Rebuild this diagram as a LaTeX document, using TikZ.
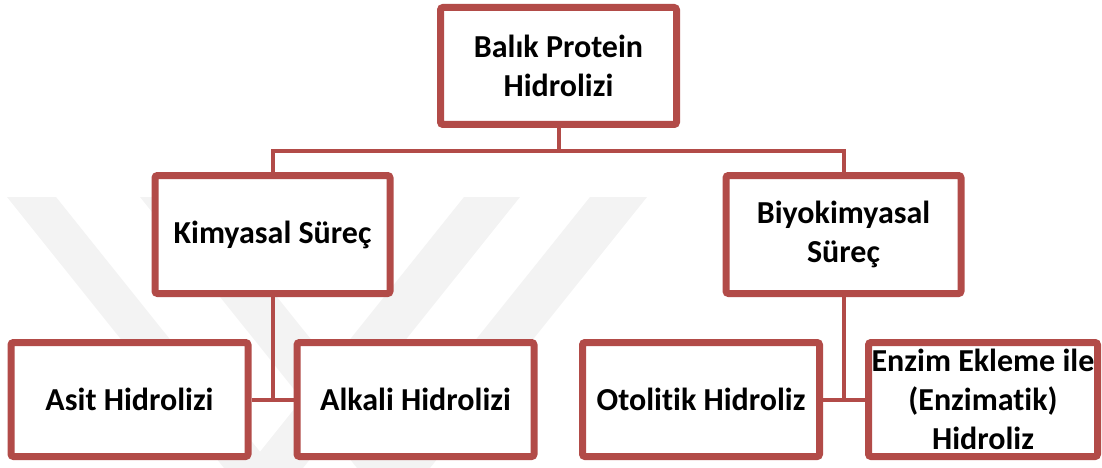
\documentclass[tikz,border=0pt]{standalone}
\usepackage{fontspec}
\setmainfont{Carlito}[Ligatures=NoCommon]
\usetikzlibrary{positioning, calc, shadows}
\definecolor{boxred}{HTML}{B24B48}
\definecolor{wmark}{HTML}{F3F3F3}

\begin{document}
\begin{tikzpicture}[x=1pt, y=-1pt,
  box/.style={draw=boxred, line width=7pt, fill=white, rounded corners=2.5pt,
    align=center, inner sep=0pt, font=\fontsize{32}{39}\selectfont\bfseries,
    drop shadow={shadow xshift=2pt, shadow yshift=-3pt, opacity=0.3, fill=black!60}},
  upbox/.style={box, minimum width=235pt, minimum height=118pt},
  lowbox/.style={box, minimum width=237pt, minimum height=114pt},
  link/.style={draw=boxred, line width=4pt}]

% Frame
\useasboundingbox (0,0) rectangle (1102,468);

% Watermark
\fill[wmark] (7,197) -- (56,197) -- (273,468) -- (224,468) -- cycle;
\fill[wmark] (140,197) -- (197,197) -- (414,468) -- (357,468) -- cycle;
\fill[wmark] (464,197) -- (520,197) -- (303,468) -- (247,468) -- cycle;
\fill[wmark] (590,197) -- (647,197) -- (430,468) -- (373,468) -- cycle;

% Boxes
\node[box, minimum width=236pt, minimum height=117pt] (balik) at (558.5,66) {Balık Protein\\Hidrolizi};
\node[upbox] (kimya) at (272.5,234.5) {Kimyasal Süreç};
\node[upbox] (biyo) at (843.5,234.5) {Biyokimyasal\\Süreç};
\node[lowbox] (asit) at (129.5,399.5) {Asit Hidrolizi};
\node[lowbox] (alkali) at (415.5,399.5) {Alkali Hidrolizi};
\node[lowbox] (otolitik) at (701,399.5) {Otolitik Hidroliz};
\node[lowbox, minimum width=229pt] (enzim) at (983,399.5) {Enzim Ekleme ile\\(Enzimatik)\\Hidroliz};

% Connectors
\coordinate (bus) at (558.5,151);
\draw[link] (balik.south) -- (bus);
\draw[link] (kimya.north) |- (bus) -| (biyo.north);
\draw[link] (asit.east) -- (alkali.west);
\draw[link] (kimya.south) -- (kimya.south |- asit.east);
\draw[link] (otolitik.east) -- (enzim.west);
\draw[link] (biyo.south) -- (biyo.south |- otolitik.east);

\end{tikzpicture}
\end{document}
